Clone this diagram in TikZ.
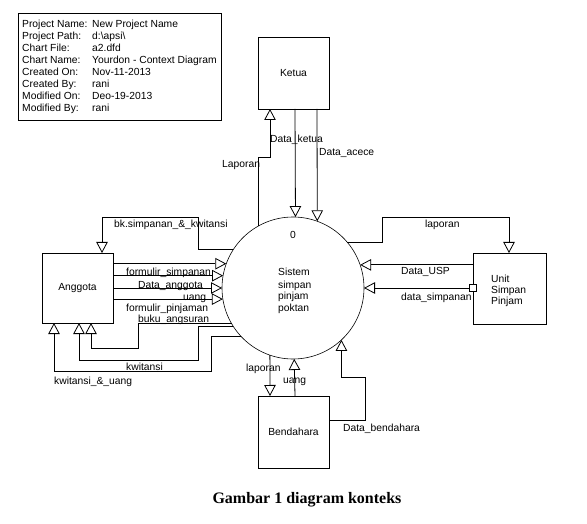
\documentclass[tikz,border=0pt]{standalone}
\usepackage{fontspec}
\setmainfont{Liberation Sans}
\newfontfamily\capfont{Liberation Serif}
\usetikzlibrary{arrows.meta}
\newcommand\dfont{\fontsize{10.3}{12}\selectfont}
\tikzset{
  flow/.style={draw, line width=0.8pt, -{Triangle[fill=white, width=11.5pt, length=11pt]}},
  ent/.style={draw, line width=0.8pt, inner sep=0pt, outer sep=0pt, font=\dfont},
  lbl/.style={anchor=base west, inner sep=0pt, font=\dfont},
}
\begin{document}
\begin{tikzpicture}[x=1pt,y=-1pt]
\useasboundingbox (0,0) rectangle (587,524);
% info box
\node[draw, line width=0.8pt, minimum width=203pt, minimum height=107pt, inner sep=0pt, outer sep=0pt, anchor=north west] (info) at (18,13) {};
\foreach \k/\v [count=\i] in {Project Name:/New Project Name, Project Path:/d:\textbackslash apsi\textbackslash, Chart File:/a2.dfd, Chart Name:/Yourdon - Context Diagram, Created On:/Nov-11-2013, Created By:/rani, Modified On:/Deo-19-2013, Modified By:/rani}{
  \node[lbl] (k\i) at (22,{16+12*\i}) {\k};
  \node[lbl] (v\i) at (92,{16+12*\i}) {\v};
}
% entities
\node[ent, minimum width=71pt, minimum height=72pt] (ketua) at (293.5,73) {Ketua};
\node[ent, minimum width=71pt, minimum height=70pt] (anggota) at (77.5,288) {Anggota};
\node[ent, minimum width=73pt, minimum height=71pt] (unit) at (509.5,288.5) {};
\node[ent, minimum width=71pt, minimum height=72pt] (bend) at (293.5,432) {Bendahara};
\node[lbl] (u1) at (491,282) {Unit};
\node[lbl] (u2) at (491,294) {Simpan};
\node[lbl] (u3) at (491,305) {Pinjam};
% process
\node[draw, circle, line width=0.6pt, minimum size=142pt, inner sep=0pt, outer sep=0pt] (sys) at (293,288) {};
\node[font=\dfont, inner sep=0pt] (pnum) at (293,235) {0};
\node[lbl] (s1) at (278,276) {Sistem};
\node[lbl] (s2) at (278,288) {simpan};
\node[lbl] (s3) at (278,299.5) {pinjam};
\node[lbl] (s4) at (278,311) {poktan};
% Ketua flows
\draw[flow] (sys.119.54) |- (270,157) -- (ketua.south -| 270,0);
\draw[flow] (ketua.south -| 295,0) -- (sys.88.39);
\draw[flow] (ketua.south -| 317,0) -- (sys.70.24);
\node[lbl] (lk1) at (222,168) {Laporan};
\node[lbl] (lk2) at (270,143) {Data\_ketua};
\node[lbl] (lk3) at (319,156) {Data\_acece};
% Anggota flows
\draw[flow] (sys.147.65) -| (198,217) -| (anggota.north -| 102,0);
\draw[flow] (anggota.east |- sys.160.24) -- (sys.160.24);
\draw[flow] (anggota.east |- sys.170.27) -- (sys.170.27);
\draw[flow] (anggota.east |- sys.180) -- (sys.180);
\draw[flow] (anggota.east |- sys.189.73) -- (sys.189.73);
\draw[flow] (sys.210.47) -| (138,348) -| (anggota.south -| 91,0);
\draw[flow] (sys.213.31) -| (198,360) -| (anggota.south -| 79,0);
\draw[flow] (sys.223.63) -| (211,371) -| (anggota.south -| 54,0);
\node[lbl] (la1) at (114,228) {bk.simpanan\_\&\_kwitansi};
\node[lbl] (la2) at (126,276) {formulir\_simpanan};
\node[lbl] (la3) at (138,288) {Data\_anggota};
\node[lbl] (la4) at (183,300) {uang};
\node[lbl] (la5) at (126,311) {formulir\_pinjaman};
\node[lbl] (la6) at (138,322) {buku\_angsuran};
\node[lbl] (la7) at (126,370) {kwitansi};
\node[lbl] (la8) at (54,384) {kwitansi\_\&\_uang};
% Unit flows
\draw[flow] (sys.40.38) -| (382,217) -| (unit.north -| 509,0);
\draw[flow] (unit.west |- sys.19.76) -- (sys.19.76);
\node[draw, fill=white, line width=0.8pt, minimum size=7pt, inner sep=0pt] (sq) at (unit.west |- sys.0) {};
\draw[flow] (sq.west) -- (sys.0);
\node[lbl] (lu1) at (425,228) {laporan};
\node[lbl] (lu2) at (401,275) {Data\_USP};
\node[lbl] (lu3) at (401,300) {data\_simpanan};
% Bendahara flows
\draw[flow] (sys.251.1) -- (bend.north -| 270,0);
\draw[flow] (bend.north -| 295,0) -- (sys.271.61);
\draw[flow] (bend.east |- 0,420) -| (365,377) -| (sys.313.63);
\node[lbl] (lb1) at (246,371) {laporan};
\node[lbl] (lb2) at (283,383) {uang};
\node[lbl] (lb3) at (343,431) {Data\_bendahara};
% caption
\node[font=\capfont\bfseries\fontsize{16}{19}\selectfont, inner sep=0pt] (cap) at (307,500) {Gambar 1 diagram konteks};
\end{tikzpicture}
\end{document}
